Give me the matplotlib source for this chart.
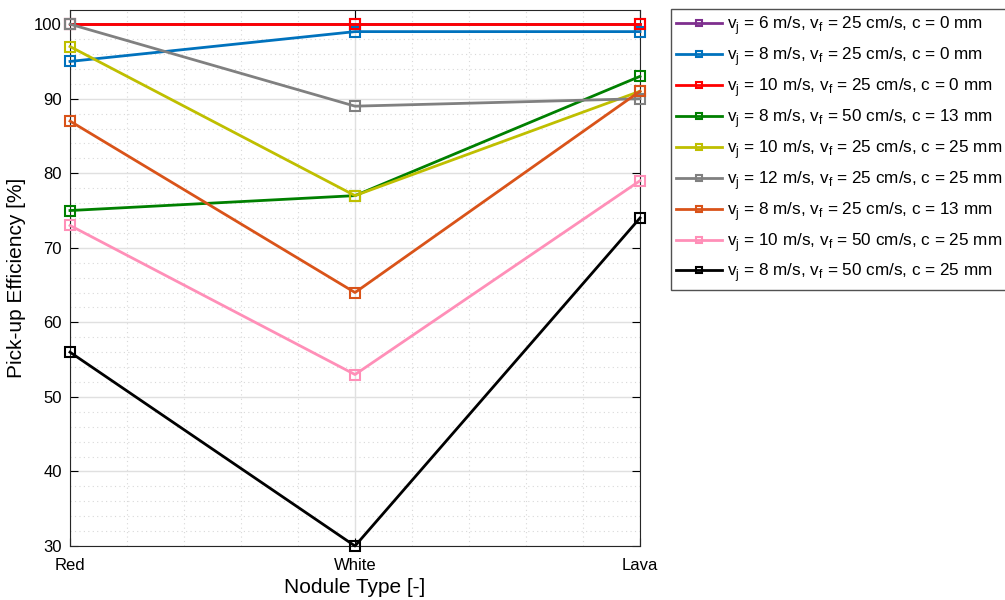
import matplotlib
matplotlib.use('Agg')
import matplotlib.pyplot as plt
from matplotlib.ticker import MultipleLocator

plt.rcParams['font.family'] = ['Liberation Sans', 'DejaVu Sans']
plt.rcParams['mathtext.fontset'] = 'custom'
plt.rcParams['mathtext.rm'] = 'Liberation Sans'

# data
nodules = ['Red', 'White', 'Lava']
vj6_f25_c0 = [100, 100, 100]
vj8_f25_c0 = [95, 99, 99]
vj10_f25_c0 = [100, 100, 100]
vj8_f50_c13 = [75, 77, 93]
vj10_f25_c25 = [97, 77, 91]
vj12_f25_c25 = [100, 89, 90]
vj8_f25_c13 = [87, 64, 91]
vj10_f50_c25 = [73, 53, 79]
vj8_f50_c25 = [56, 30, 74]

series = [
    (vj6_f25_c0, '#7E2F8E', 6, 25, 0),
    (vj8_f25_c0, '#0072BD', 8, 25, 0),
    (vj10_f25_c0, '#FF0000', 10, 25, 0),
    (vj8_f50_c13, '#008000', 8, 50, 13),
    (vj10_f25_c25, '#BFBF00', 10, 25, 25),
    (vj12_f25_c25, '#808080', 12, 25, 25),
    (vj8_f25_c13, '#D95319', 8, 25, 13),
    (vj10_f50_c25, '#FF8FB8', 10, 50, 25),
    (vj8_f50_c25, '#000000', 8, 50, 25),
]

fig = plt.figure(figsize=(10.05, 6.0), dpi=100)
ax = fig.add_axes([70/1005, 54/600, 570/1005, 536/600])

x = range(len(nodules))
for vals, col, vj, vf, c in series:
    lab = r'v$_\mathregular{j}$ = %d m/s, v$_\mathregular{f}$ = %d cm/s, c = %d mm' % (vj, vf, c)
    ax.plot(x, vals, color=col, lw=2, marker='s', markersize=6.5, markerfacecolor='none',
            markeredgewidth=1.5, label=lab, clip_on=False, zorder=3)

ax.set_xlim(0, 2)
ax.set_ylim(30, 101.9)
ax.set_xticks(list(x))
ax.set_xticklabels(nodules)
ax.set_yticks(range(30, 101, 10))
ax.xaxis.set_minor_locator(MultipleLocator(0.2))
ax.yaxis.set_minor_locator(MultipleLocator(2))
ax.grid(True, which='major', color='#e0e0e0', lw=1)
ax.grid(True, which='minor', color='#d8d8d8', lw=0.8, ls=(0, (1, 3)))
ax.tick_params(which='both', direction='in', top=True, right=True, labelsize=12)
ax.tick_params(which='minor', length=0)
ax.tick_params(which='major', length=6)
ax.tick_params(axis='x', pad=9)
ax.tick_params(axis='y', pad=6)
for s in ax.spines.values():
    s.set_color('#262626')
ax.set_axisbelow(True)

ax.set_xlabel('Nodule Type [-]', fontsize=15, labelpad=3)
ax.set_ylabel('Pick-up Efficiency [%]', fontsize=15, labelpad=6)

leg = fig.legend(loc='upper left', bbox_to_anchor=(671/1005, 1 - 9/600), fontsize=12.3,
                 frameon=True, fancybox=False, edgecolor='#262626', handlelength=2.7,
                 handletextpad=0.3, labelspacing=0.47, borderpad=0.3, borderaxespad=0)
leg.get_frame().set_linewidth(1)
for h in leg.legend_handles:
    h.set_markersize(5)

fig.savefig('out.png', dpi=100)
